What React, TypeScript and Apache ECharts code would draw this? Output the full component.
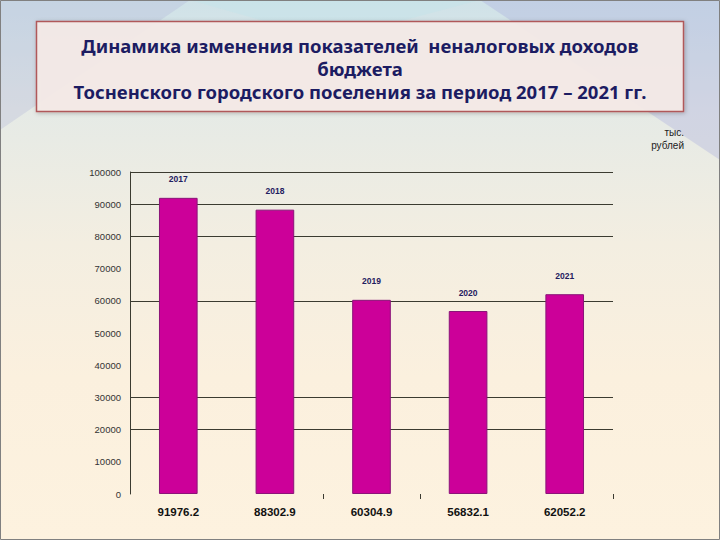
import React, { useEffect, useRef } from "react";
import * as echarts from "echarts";

const years = ["2017", "2018", "2019", "2020", "2021"];
const values = [91976.2, 88302.9, 60304.9, 56832.1, 62052.2];
const categories = values.map((v) => v.toFixed(1));
const gridLineValues = [20000, 30000, 60000, 80000, 90000, 100000];
const titleLines = [
  "Динамика изменения показателей  неналоговых доходов",
  "бюджета",
  "Тосненского городского поселения за период 2017 – 2021 гг.",
];
const unitLines = ["тыс.", "рублей"];

export default function App() {
  const ref = useRef<HTMLDivElement>(null);
  useEffect(() => {
    if (!ref.current) return;
    const chart = echarts.init(ref.current, undefined, { renderer: "svg" });
    const titleTexts = titleLines.map((t, i) => ({
      type: "text",
      z: 11,
      x: 360,
      y: 45 + i * 23,
      style: {
        text: t,
        fill: "#1c1c62",
        font: "bold 18.5px 'Noto Sans'",
        align: "center",
        verticalAlign: "middle",
      },
    }));
    const unitTexts = unitLines.map((t, i) => ({
      type: "text",
      z: 11,
      x: 684,
      y: 132 + i * 13,
      style: {
        text: t,
        fill: "#222222",
        font: "10px 'Liberation Sans'",
        align: "right",
        verticalAlign: "middle",
      },
    }));
    const option = {
      animation: false,
      backgroundColor: "#fcf1de",
      graphic: [
        {
          type: "rect",
          z: -10,
          silent: true,
          shape: { x: 0, y: 0, width: 720, height: 540 },
          style: {
            fill: new echarts.graphic.LinearGradient(0, 0, 0, 1, [
              { offset: 0, color: "#cfe2e8" },
              { offset: 0.2, color: "#e5eae6" },
              { offset: 0.45, color: "#f3eee1" },
              { offset: 0.7, color: "#fbf0de" },
              { offset: 1, color: "#fdf2df" },
            ]),
          },
        },
        {
          type: "polygon",
          z: -9,
          silent: true,
          shape: { points: [[480, 0], [720, 0], [720, 160]] },
          style: { fill: "rgba(170,172,220,0.35)" },
        },
        {
          type: "polygon",
          z: -9,
          silent: true,
          shape: { points: [[0, 0], [190, 0], [0, 130]] },
          style: { fill: "rgba(175,180,215,0.3)" },
        },
        {
          type: "polygon",
          z: -9,
          silent: true,
          shape: { points: [[190, 0], [480, 0], [330, 40]] },
          style: { fill: "rgba(190,230,235,0.3)" },
        },
        {
          type: "rect",
          z: 10,
          shape: { x: 36.5, y: 21.5, width: 647, height: 90 },
          style: {
            fill: "rgba(246,236,232,0.92)",
            stroke: "#b0585a",
            lineWidth: 1.5,
            shadowBlur: 4,
            shadowColor: "rgba(0,0,0,0.25)",
            shadowOffsetX: 1,
            shadowOffsetY: 1,
          },
        },
        ...titleTexts,
        ...unitTexts,
        {
          type: "rect",
          z: 20,
          silent: true,
          shape: { x: 0.5, y: 0.5, width: 719, height: 539 },
          style: { fill: "none", stroke: "#808080", lineWidth: 1 },
        },
      ],
      grid: { left: 130, right: 107, top: 172, bottom: 46, containLabel: false },
      xAxis: {
        type: "category",
        data: categories,
        axisLine: { show: false },
        axisTick: {
          show: true,
          length: 5,
          interval: (i: number) => i === 2 || i === 3,
          lineStyle: { color: "#3b3b30", width: 1 },
        },
        axisLabel: {
          margin: 12,
          color: "#111111",
          fontFamily: "Liberation Sans",
          fontWeight: "bold",
          fontSize: 11.5,
        },
      },
      yAxis: {
        type: "value",
        min: 0,
        max: 100000,
        interval: 10000,
        splitLine: { show: false },
        axisLine: { show: true, lineStyle: { color: "#3b3b30", width: 1 } },
        axisTick: { show: false },
        axisLabel: {
          margin: 9,
          color: "#333333",
          fontFamily: "Liberation Sans",
          fontSize: 9.5,
          formatter: (v: number) => String(v),
        },
      },
      series: [
        {
          type: "bar",
          data: values,
          barWidth: "40%",
          z: 2,
          itemStyle: { color: "#cc0099", borderColor: "#8a1478", borderWidth: 1 },
          label: {
            show: true,
            position: "top",
            distance: 14,
            formatter: (p: any) => years[p.dataIndex],
            color: "#1f2060",
            fontFamily: "Liberation Sans",
            fontWeight: "bold",
            fontSize: 8.5,
          },
          markLine: {
            silent: true,
            z: 1,
            symbol: ["none", "none"],
            label: { show: false },
            lineStyle: { color: "#3b3b30", width: 1, type: "solid" },
            data: gridLineValues.map((v) => ({ yAxis: v })),
          },
        },
      ],
    };
    chart.setOption(option as any);
    return () => chart.dispose();
  }, []);
  return (
    <div
      ref={ref}
      style={{ position: "absolute", left: 0, top: 0, width: 720, height: 540 }}
    />
  );
}
